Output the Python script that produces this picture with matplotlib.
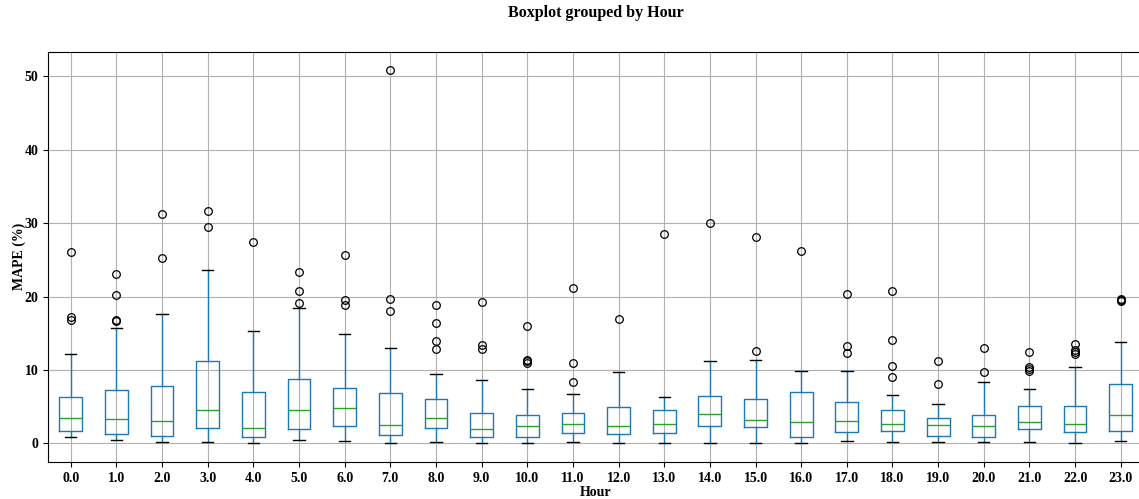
import matplotlib
matplotlib.use("Agg")
import matplotlib.pyplot as plt

plt.rcParams['font.family'] = ['Liberation Serif', 'DejaVu Serif']
plt.rcParams['font.weight'] = 'bold'

# Hour of day (groups)
hours = [float(h) for h in range(24)]

# Per-hour MAPE (%) summary statistics
whisker_low = [0.9, 0.4, 0.15, 0.15, 0.0, 0.4, 0.27, 0.0, 0.15, 0.0, 0.0, 0.15,
               0.0, 0.0, 0.0, 0.0, 0.0, 0.27, 0.15, 0.15, 0.15, 0.15, 0.0, 0.27]
q1 = [1.7, 1.3, 1.05, 2.1, 0.8, 1.95, 2.3, 1.15, 2.1, 0.9, 0.9, 1.4,
      1.25, 1.4, 2.3, 2.2, 0.9, 1.55, 1.7, 1.05, 0.9, 1.95, 1.55, 1.7]
median = [3.5, 3.35, 3.1, 4.5, 2.1, 4.5, 4.75, 2.45, 3.5, 1.95, 2.3, 2.7,
          2.3, 2.7, 4.0, 3.2, 2.85, 3.0, 2.7, 2.45, 2.3, 2.85, 2.7, 3.85]
q3 = [6.3, 7.25, 7.85, 11.25, 7.0, 8.7, 7.5, 6.85, 6.05, 4.1, 3.85, 4.1,
      5.0, 4.6, 6.45, 6.05, 7.05, 5.7, 4.5, 3.5, 3.85, 5.15, 5.15, 8.15]
whisker_high = [12.2, 15.7, 17.6, 23.65, 15.35, 18.4, 14.85, 13.05, 9.45, 8.65, 7.35, 6.7,
                9.7, 6.3, 11.25, 11.35, 9.9, 9.8, 6.55, 5.3, 8.4, 7.35, 10.45, 13.8]
outliers = [
    [26.0, 17.2, 16.8],
    [23.0, 20.15, 16.85, 16.6],
    [31.25, 25.2],
    [31.65, 29.45],
    [27.4],
    [23.4, 20.7, 19.1],
    [25.6, 19.55, 18.8],
    [50.8, 19.6, 18.0],
    [18.85, 16.4, 13.95, 12.8],
    [19.25, 13.35, 12.8],
    [16.0, 11.4, 11.2, 10.9],
    [21.2, 11.0, 8.4],
    [16.95],
    [28.5],
    [30.0],
    [28.05, 12.55],
    [26.2],
    [20.4, 13.2, 12.3],
    [20.8, 14.1, 10.6, 9.05],
    [11.15, 8.15],
    [13.05, 9.7],
    [12.4, 10.35, 10.15, 9.9],
    [13.6, 12.7, 12.4, 12.15],
    [19.6, 19.4, 19.5],
]

stats = []
for i, h in enumerate(hours):
    stats.append(dict(label=f"{h:.1f}", whislo=whisker_low[i], q1=q1[i], med=median[i],
                      q3=q3[i], whishi=whisker_high[i], fliers=outliers[i]))

fig = plt.figure(figsize=(11.39, 4.99), dpi=100)
ax = fig.add_axes([0.0421, 0.0741, 0.9619, 0.8223])

blue = '#1f77b4'
ax.bxp(stats, positions=range(1, len(hours) + 1), widths=0.5,
       boxprops=dict(color=blue, linewidth=1.0),
       whiskerprops=dict(color=blue, linewidth=1.0),
       capprops=dict(color='black', linewidth=1.0),
       medianprops=dict(color='#2ca02c', linewidth=1.0),
       flierprops=dict(marker='o', markerfacecolor='none', markeredgecolor='black',
                       markersize=5.5, markeredgewidth=0.9))

ax.set_xlim(0.5, len(hours) + 0.5)
ax.set_ylim(-2.54, 53.34)
ax.set_yticks([0, 10, 20, 30, 40, 50])
ax.grid(True, color='#b0b0b0', linewidth=0.8)
ax.set_axisbelow(True)

for lab in ax.get_xticklabels() + ax.get_yticklabels():
    lab.set_fontsize(10)
    lab.set_fontweight('bold')

ax.set_xlabel('Hour', fontsize=10, fontweight='bold', labelpad=1)
ax.set_ylabel('MAPE (%)', fontsize=10, fontweight='bold', labelpad=-1)

fig.text(0.523, 0.974, 'Boxplot grouped by Hour', ha='center', va='center',
         fontsize=11.5, fontweight='bold')

fig.savefig('out.png', dpi=100)
